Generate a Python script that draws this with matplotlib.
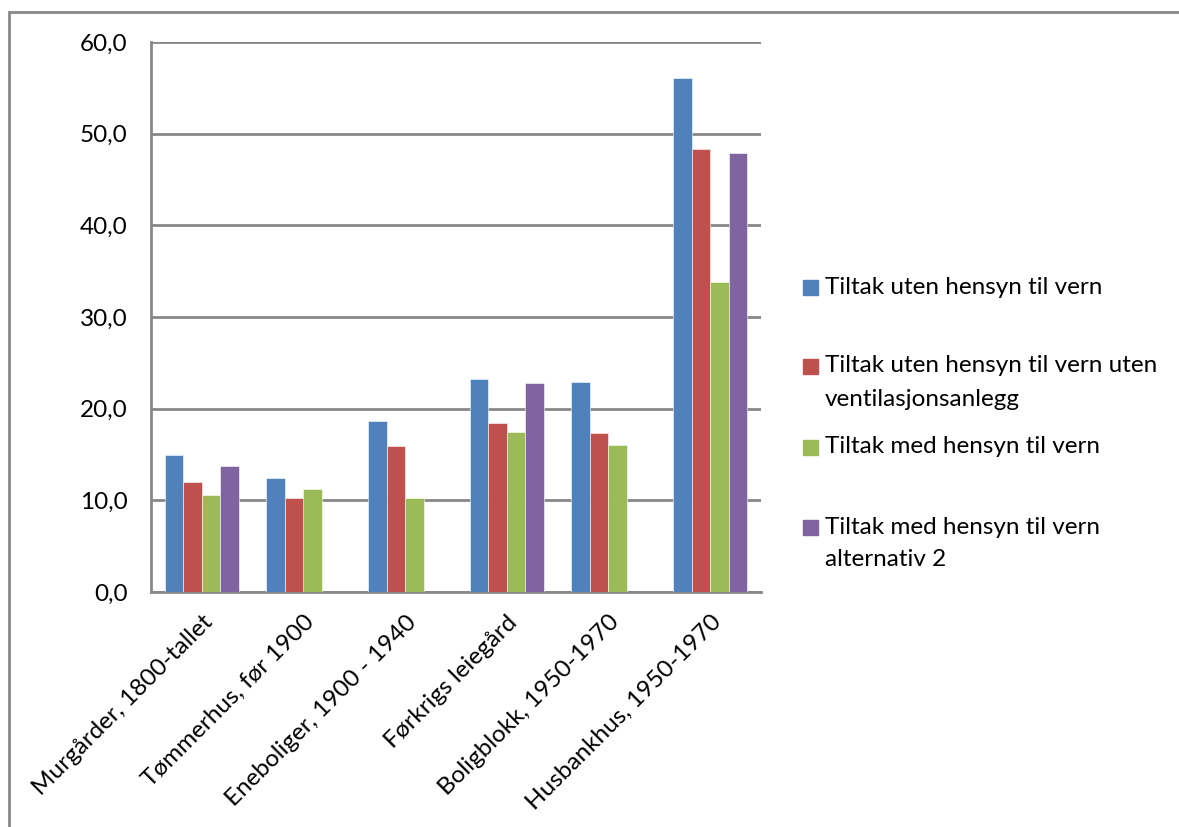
import numpy as np
import matplotlib.pyplot as plt
from matplotlib.patches import Rectangle

plt.rcParams["font.family"] = ["Lato", "DejaVu Sans"]

categories = [
    "Murgårder, 1800-tallet",
    "Tømmerhus, før 1900",
    "Eneboliger, 1900 - 1940",
    "Førkrigs leiegård",
    "Boligblokk, 1950-1970",
    "Husbankhus, 1950-1970",
]
series_names = [
    "Tiltak uten hensyn til vern",
    "Tiltak uten hensyn til vern uten\nventilasjonsanlegg",
    "Tiltak med hensyn til vern",
    "Tiltak med hensyn til vern\nalternativ 2",
]
uten_vern = [14.9, 12.4, 18.7, 23.2, 22.9, 56.1]
uten_vern_uten_vent = [12.0, 10.3, 15.9, 18.4, 17.4, 48.3]
med_vern = [10.6, 11.2, 10.3, 17.5, 16.0, 33.8]
med_vern_alt2 = [13.7, np.nan, np.nan, 22.8, np.nan, 47.9]

colors = ["#4F81BD", "#C0504D", "#9BBB59", "#8064A2"]
values = [uten_vern, uten_vern_uten_vent, med_vern, med_vern_alt2]

W, H = 1179, 827
fig = plt.figure(figsize=(W / 100, H / 100), dpi=100)
ax = fig.add_axes([151 / W, 1 - 592 / H, 610 / W, 550 / H])

x = np.arange(len(categories))
width = 0.182
for i, (vals, col, name) in enumerate(zip(values, colors, series_names)):
    ax.bar(x + (i - 1.5) * width, vals, width, color=col, label=name,
           edgecolor="white", linewidth=0.4, zorder=3)

ax.set_xlim(-0.5, len(categories) - 0.5)
ax.set_ylim(0, 60)
ax.set_yticks(np.arange(0, 61, 10))
ax.set_yticklabels([f"{v:.1f}".replace(".", ",") for v in np.arange(0, 61, 10)],
                   fontsize=17.5)
ax.set_xticks(x)
ax.set_xticklabels(categories, rotation=45, ha="right", rotation_mode="anchor",
                   fontsize=17.5)
ax.tick_params(axis="both", length=0)
ax.tick_params(axis="y", pad=17)
ax.tick_params(axis="x", pad=14)
ax.grid(axis="y", color="#888888", linewidth=2, zorder=0)
for side in ["top", "right"]:
    ax.spines[side].set_visible(False)
for side in ["left", "bottom"]:
    ax.spines[side].set_color("#888888")
    ax.spines[side].set_linewidth(2)

# legend, square next to the first line of each entry
legend_y = [287, 366, 447, 527]
for name, col, yy in zip(series_names, colors, legend_y):
    fig.patches.append(Rectangle((803 / W, 1 - (yy + 7.5) / H), 15 / W, 15 / H,
                                 transform=fig.transFigure, color=col))
    first, *rest = name.split("\n")
    fig.text(825 / W, 1 - yy / H, first, fontsize=17.5, va="center", ha="left")
    for k, line in enumerate(rest, start=1):
        fig.text(825 / W, 1 - (yy + 33 * k) / H, line, fontsize=17.5,
                 va="center", ha="left")

# outer chart frame
fig.patches.append(Rectangle((9 / W, -0.05), 1.1, 1.05 - 12 / H,
                             transform=fig.transFigure, fill=False,
                             edgecolor="#888888", linewidth=2))

fig.savefig("out.png", dpi=100)
